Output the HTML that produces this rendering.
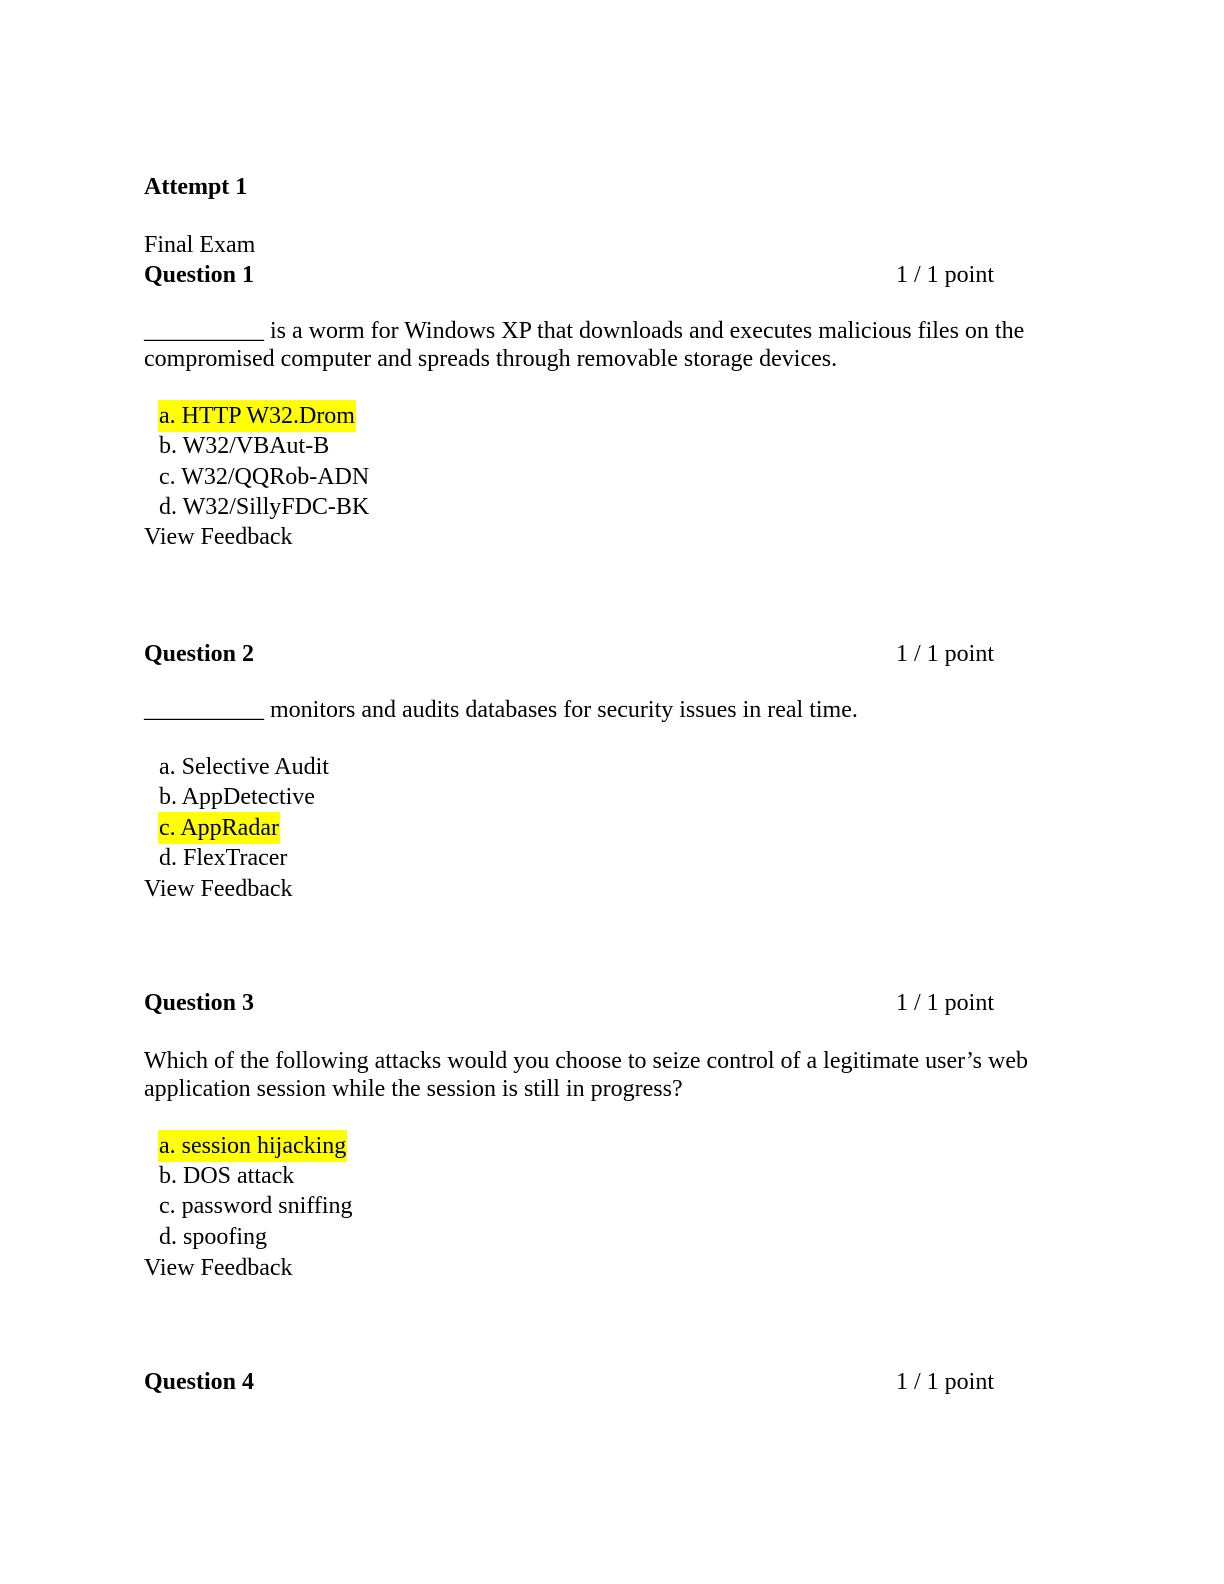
<!DOCTYPE html>
<html><head><meta charset="utf-8"><style>
body{margin:0;background:#fff;}
.p{position:relative;width:1224px;height:1584px;font-family:"Liberation Serif",serif;font-size:24px;color:#000;}
.l{position:absolute;line-height:24px;white-space:nowrap;}
.b{font-weight:bold;}
.h{background:#ffff00;padding:3px 1px 3px 1px;}
</style></head><body><div class="p">
<div class="l b" style="left:144px;top:175px">Attempt 1</div>
<div class="l" style="left:144px;top:233px">Final Exam</div>
<div class="l b" style="left:144px;top:263px">Question 1</div>
<div class="l" style="left:896px;top:263px">1 / 1 point</div>
<div class="l" style="left:144px;top:319px">__________ is a worm for Windows XP that downloads and executes malicious files on the</div>
<div class="l" style="left:144px;top:347px">compromised computer and spreads through removable storage devices.</div>
<div class="l" style="left:158px;top:404px"><span class="h">a. HTTP W32.Drom</span></div>
<div class="l" style="left:159px;top:434px">b. W32/VBAut-B</div>
<div class="l" style="left:159px;top:465px">c. W32/QQRob-ADN</div>
<div class="l" style="left:159px;top:495px">d. W32/SillyFDC-BK</div>
<div class="l" style="left:144px;top:525px">View Feedback</div>

<div class="l b" style="left:144px;top:642px">Question 2</div>
<div class="l" style="left:896px;top:642px">1 / 1 point</div>
<div class="l" style="left:144px;top:698px">__________ monitors and audits databases for security issues in real time.</div>
<div class="l" style="left:159px;top:755px">a. Selective Audit</div>
<div class="l" style="left:159px;top:785px">b. AppDetective</div>
<div class="l" style="left:158px;top:816px"><span class="h">c. AppRadar</span></div>
<div class="l" style="left:159px;top:846px">d. FlexTracer</div>
<div class="l" style="left:144px;top:877px">View Feedback</div>

<div class="l b" style="left:144px;top:991px">Question 3</div>
<div class="l" style="left:896px;top:991px">1 / 1 point</div>
<div class="l" style="left:144px;top:1049px">Which of the following attacks would you choose to seize control of a legitimate user’s web</div>
<div class="l" style="left:144px;top:1077px">application session while the session is still in progress?</div>
<div class="l" style="left:158px;top:1134px"><span class="h">a. session hijacking</span></div>
<div class="l" style="left:159px;top:1164px">b. DOS attack</div>
<div class="l" style="left:159px;top:1194px">c. password sniffing</div>
<div class="l" style="left:159px;top:1225px">d. spoofing</div>
<div class="l" style="left:144px;top:1256px">View Feedback</div>

<div class="l b" style="left:144px;top:1370px">Question 4</div>
<div class="l" style="left:896px;top:1370px">1 / 1 point</div>
</div></body></html>
